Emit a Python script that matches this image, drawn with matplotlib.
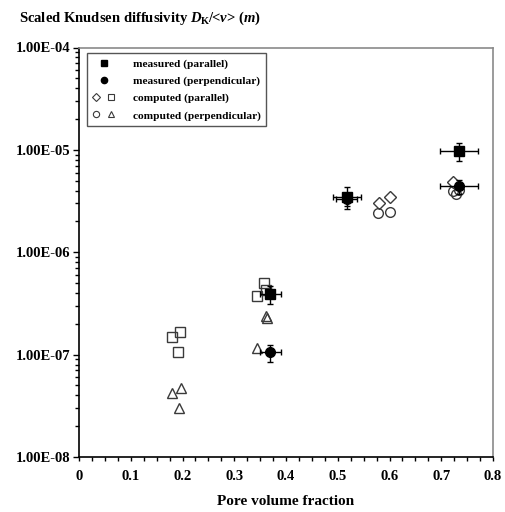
import matplotlib
matplotlib.use("Agg")
import matplotlib.pyplot as plt
from matplotlib.lines import Line2D
from matplotlib.legend_handler import HandlerTuple
from matplotlib.ticker import FixedLocator, MultipleLocator, LogLocator, NullFormatter, FixedFormatter

plt.rcParams["font.family"] = ["Liberation Serif", "DejaVu Serif"]
plt.rcParams["font.weight"] = "bold"
plt.rcParams["mathtext.fontset"] = "custom"
plt.rcParams["mathtext.rm"] = "Liberation Serif:bold"
plt.rcParams["mathtext.it"] = "Liberation Serif:italic:bold"
plt.rcParams["mathtext.bf"] = "Liberation Serif:bold"

# measured diffusivities with error bars
meas_par_x = [0.370, 0.517, 0.734]
meas_par_y = [3.9e-7, 3.5e-6, 9.7e-6]
meas_par_xerr = [0.020, 0.027, 0.037]
meas_par_yerr = [0.8e-7, 0.85e-6, 2.0e-6]

meas_perp_x = [0.370, 0.517, 0.734]
meas_perp_y = [1.05e-7, 3.3e-6, 4.4e-6]
meas_perp_xerr = [0.020, 0.020, 0.037]
meas_perp_yerr = [0.2e-7, 0.5e-6, 0.7e-6]

# computed diffusivities
comp_par_diam_x = [0.580, 0.600, 0.723]
comp_par_diam_y = [3.0e-6, 3.47e-6, 4.85e-6]
comp_par_sq_x = [0.180, 0.196, 0.191, 0.343, 0.357, 0.362]
comp_par_sq_y = [1.49e-7, 1.65e-7, 1.05e-7, 3.7e-7, 5.0e-7, 4.3e-7]

comp_perp_circ_x = [0.578, 0.600, 0.722, 0.728, 0.735]
comp_perp_circ_y = [2.44e-6, 2.47e-6, 3.96e-6, 3.68e-6, 4.1e-6]
comp_perp_tri_x = [0.180, 0.198, 0.193, 0.343, 0.361, 0.364]
comp_perp_tri_y = [4.18e-8, 4.68e-8, 3.0e-8, 1.17e-7, 2.36e-7, 2.3e-7]

legend_labels = ["measured (parallel)", "measured (perpendicular)",
                 "computed (parallel)", "computed (perpendicular)"]
y_ticks = [1e-8, 1e-7, 1e-6, 1e-5, 1e-4]
y_tick_labels = ["1.00E-08", "1.00E-07", "1.00E-06", "1.00E-05", "1.00E-04"]
x_ticks = [0, 0.1, 0.2, 0.3, 0.4, 0.5, 0.6, 0.7, 0.8]
x_tick_labels = ["0", "0.1", "0.2", "0.3", "0.4", "0.5", "0.6", "0.7", "0.8"]

fig = plt.figure(figsize=(5.05, 5.12), dpi=100)
ax = fig.add_axes([79 / 505, 55 / 512, 414 / 505, 409.5 / 512])
ax.set_yscale("log")
ax.set_xlim(0, 0.8)
ax.set_ylim(1e-8, 1e-4)

open_kw = dict(linestyle="none", markerfacecolor="none", markeredgecolor="#3a3a3a",
               markeredgewidth=1.0, markersize=7)

ax.plot(comp_par_sq_x, comp_par_sq_y, marker="s", **open_kw, zorder=2)
ax.plot(comp_perp_tri_x, comp_perp_tri_y, marker="^", **open_kw, zorder=2)
ax.plot(comp_par_diam_x, comp_par_diam_y, marker="D", **{**open_kw, "markersize": 6}, zorder=2)
ax.plot(comp_perp_circ_x, comp_perp_circ_y, marker="o", **open_kw, zorder=2)

err_kw = dict(linestyle="none", ecolor="black", elinewidth=1.0, capsize=2.5,
              capthick=1.0, color="black", zorder=3)
ax.errorbar(meas_perp_x, meas_perp_y, xerr=meas_perp_xerr, yerr=meas_perp_yerr,
            marker="o", markersize=7, **err_kw)
ax.errorbar(meas_par_x, meas_par_y, xerr=meas_par_xerr, yerr=meas_par_yerr,
            marker="s", markersize=6.5, **err_kw)

# axes styling
for side in ("left", "bottom"):
    ax.spines[side].set_color("black")
    ax.spines[side].set_linewidth(1.2)
for side in ("top", "right"):
    ax.spines[side].set_color("#8a8a8a")
    ax.spines[side].set_linewidth(1.2)

ax.yaxis.set_major_locator(FixedLocator(y_ticks))
ax.yaxis.set_major_formatter(FixedFormatter(y_tick_labels))
ax.yaxis.set_minor_locator(LogLocator(base=10, subs=range(2, 10)))
ax.yaxis.set_minor_formatter(NullFormatter())
ax.xaxis.set_major_locator(FixedLocator(x_ticks))
ax.xaxis.set_major_formatter(FixedFormatter(x_tick_labels))
ax.xaxis.set_minor_locator(MultipleLocator(0.025))

ax.tick_params(axis="y", which="major", direction="out", length=4, width=1, labelsize=10.5, pad=2)
ax.tick_params(axis="y", which="minor", direction="out", length=3, width=1)
ax.tick_params(axis="x", which="major", direction="out", length=3, width=1, labelsize=10.5, pad=6)
ax.tick_params(axis="x", which="minor", direction="out", length=3, width=1)
for lbl in ax.get_xticklabels() + ax.get_yticklabels():
    lbl.set_fontweight("bold")

ax.set_xlabel("Pore volume fraction", fontsize=11, fontweight="bold", labelpad=9)

fig.text(19 / 505, 1 - 18 / 512,
         r"Scaled Knudsen diffusivity $\mathit{D}_{\mathrm{K}}$/<$\mathit{v}$> ($\mathit{m}$)",
         fontsize=10.5, fontweight="bold", ha="left", va="center")

# legend
lk = dict(linestyle="none", markersize=4.5)
h_mpar = Line2D([], [], marker="s", color="black", **lk)
h_mperp = Line2D([], [], marker="o", color="black", **lk)
h_cd = Line2D([], [], marker="D", markerfacecolor="none", markeredgecolor="#3a3a3a",
              markeredgewidth=0.8, linestyle="none", markersize=4)
h_cs = Line2D([], [], marker="s", markerfacecolor="none", markeredgecolor="#3a3a3a",
              markeredgewidth=0.8, linestyle="none", markersize=4.5)
h_cc = Line2D([], [], marker="o", markerfacecolor="none", markeredgecolor="#3a3a3a",
              markeredgewidth=0.8, linestyle="none", markersize=4.5)
h_ct = Line2D([], [], marker="^", markerfacecolor="none", markeredgecolor="#3a3a3a",
              markeredgewidth=0.8, linestyle="none", markersize=5)
leg = ax.legend([h_mpar, h_mperp, (h_cd, h_cs), (h_cc, h_ct)], legend_labels,
                handler_map={tuple: HandlerTuple(ndivide=None, pad=0.6)},
                loc="upper left", bbox_to_anchor=(8 / 414, 1 - 6 / 409.5),
                frameon=True, fancybox=False, edgecolor="#555555", framealpha=1,
                prop={"family": "Liberation Serif", "weight": "bold", "size": 8.2},
                handlelength=2.0, handletextpad=1.6, labelspacing=0.62,
                borderpad=0.45, borderaxespad=0)
leg.get_frame().set_linewidth(1.0)

fig.savefig("out.png", dpi=100)
